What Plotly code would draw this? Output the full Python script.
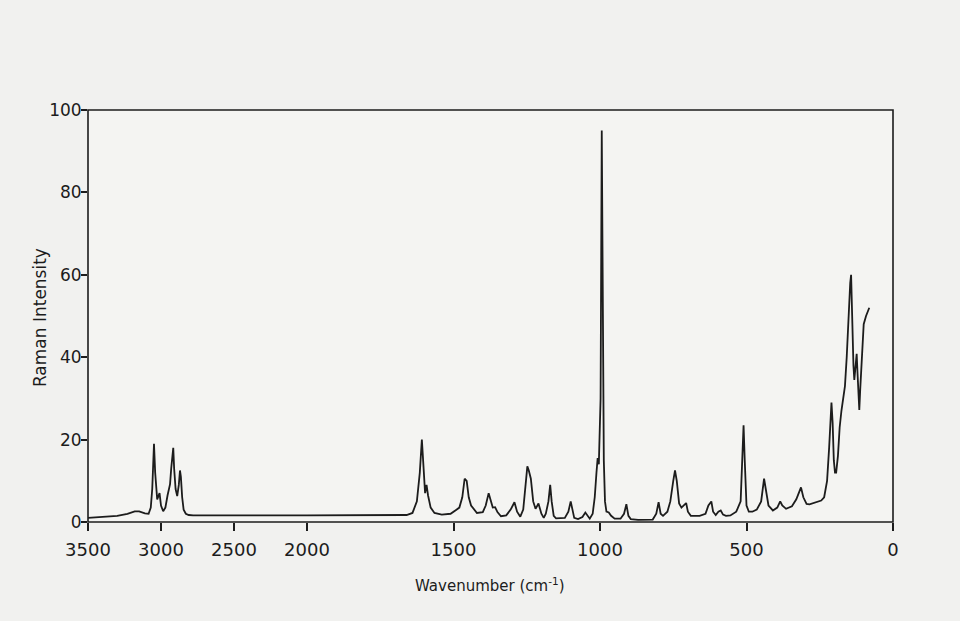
import plotly.graph_objects as go

# Spectrum (wavenumber cm^-1, Raman intensity)
wavenumber = [
    3500, 3400, 3300, 3230, 3180, 3150, 3110, 3085, 3070, 3060, 3052, 3048, 3040, 3033, 3026,
    3010, 3000, 2985, 2970, 2955, 2945, 2938, 2930, 2922, 2916, 2910, 2900, 2889, 2878, 2870,
    2864, 2855, 2845, 2830, 2810, 2780, 2000,
    1700, 1660, 1640, 1625, 1615, 1608, 1602, 1597, 1592, 1587, 1578, 1565, 1540, 1510, 1490,
    1480, 1470, 1462, 1455, 1448, 1440, 1430, 1420, 1400, 1390, 1380, 1374, 1366, 1358, 1350,
    1338, 1320, 1305, 1292, 1283, 1272, 1262, 1254, 1248, 1243, 1236, 1228, 1220, 1210, 1200,
    1192, 1185, 1176, 1170, 1165, 1158, 1150, 1120, 1108, 1100, 1094, 1088, 1075, 1060, 1050,
    1042, 1035, 1025, 1018, 1012, 1008, 1004, 998, 994, 990, 987, 983, 978, 970, 962,
    950, 930, 918, 910, 903, 895, 870, 820, 808, 800, 793, 785, 770, 760, 750,
    744, 738, 730, 722, 715, 706, 700, 690, 660, 640, 630, 620, 614, 605, 596,
    588, 580, 570, 555, 535, 520, 514, 510, 506, 500, 492, 480, 465, 450, 440,
    434, 425, 410, 395, 385, 378, 365, 345, 330, 320, 314, 306, 295, 285, 260,
    245, 235, 225, 218, 214, 210, 206, 202, 198, 194, 188, 182, 176, 170, 164,
    158, 152, 146, 143, 140, 135, 132, 128, 124, 121, 117, 115, 112, 107, 100,
    92, 81,
]
intensity = [
    1.0, 1.2, 1.5, 2.0, 2.6, 2.6, 2.1, 2.0, 3.5, 8.0, 16.0, 19.0, 12.0, 7.0, 5.5,
    7.0, 4.0, 2.6, 3.5, 6.5, 8.5, 9.2, 13.0, 17.0, 18.0, 13.0, 8.0, 6.3, 9.0, 12.5,
    11.0, 6.0, 3.0, 2.0, 1.7, 1.6, 1.6,
    1.6, 1.7, 2.2, 5.0, 12.0, 20.0, 13.0, 7.0, 9.0, 6.5, 3.5, 2.2, 1.8, 2.0, 3.0,
    3.5, 6.0, 10.5, 10.0, 6.0, 4.0, 3.0, 2.2, 2.4, 4.0, 7.0, 5.5, 3.5, 3.6, 2.4,
    1.4, 1.6, 3.0, 4.8, 2.5, 1.3, 3.0, 9.0, 13.5, 12.5, 10.5, 5.0, 3.2, 4.5, 2.0,
    1.0, 2.0, 5.0, 9.0, 5.0, 1.5, 0.9, 1.0, 2.5, 5.0, 3.0, 1.0, 0.7, 1.2, 2.3,
    1.5, 0.8, 2.0, 6.0, 12.0, 15.5, 14.0, 30.0, 95.0, 60.0, 15.0, 5.0, 2.5, 2.3, 1.5,
    0.8, 0.8, 2.0, 4.3, 1.5, 0.7, 0.5, 0.6, 2.0, 4.8, 2.0, 1.5, 2.5, 5.0, 10.0,
    12.5, 10.0, 4.5, 3.5, 4.0, 4.6, 2.5, 1.5, 1.5, 2.0, 4.0, 5.0, 2.5, 1.7, 2.5,
    2.8, 1.8, 1.5, 1.6, 2.5, 5.0, 15.0, 23.5, 15.0, 4.0, 2.5, 2.5, 3.0, 5.0, 10.5,
    8.0, 4.0, 2.8, 3.5, 5.0, 4.0, 3.2, 3.8, 5.5, 7.5, 8.4, 6.0, 4.4, 4.3, 4.8,
    5.2, 6.0, 10.0, 18.0, 25.0, 29.0, 24.0, 15.0, 12.0, 12.0, 16.0, 23.0, 27.0, 30.0, 33.0,
    40.0, 50.0, 58.0, 60.0, 50.0, 38.0, 34.5, 38.0, 40.8, 36.0, 29.0, 27.2, 32.0, 40.0, 48.0,
    50.0, 52.0,
]

# Axis ticks (the wavenumber scale is compressed by half above 2000 cm^-1)
high_ticks = [3500, 3000, 2500, 2000]
low_ticks = [1500, 1000, 500, 0]
y_ticks = [0, 20, 40, 60, 80, 100]
BREAK = 2000

hi_x = [w for w in wavenumber if w >= BREAK]
hi_y = [v for w, v in zip(wavenumber, intensity) if w >= BREAK]
lo_x = [w for w in wavenumber if w <= BREAK]
lo_y = [v for w, v in zip(wavenumber, intensity) if w <= BREAK]

ink = "#1c1c1c"
font_family = "DejaVu Sans, Arial, sans-serif"
split = 219 / 805

fig = go.Figure()
fig.add_trace(go.Scatter(x=hi_x, y=hi_y, mode="lines", xaxis="x", yaxis="y",
                         line=dict(color=ink, width=1.8), showlegend=False))
fig.add_trace(go.Scatter(x=lo_x, y=lo_y, mode="lines", xaxis="x2", yaxis="y",
                         line=dict(color=ink, width=1.8), showlegend=False))

x_common = dict(showgrid=False, zeroline=False, showline=False, ticks="outside",
                ticklen=8, tickwidth=1.5, tickcolor=ink, ticklabelstandoff=3,
                tickfont=dict(family=font_family, size=18, color=ink))

fig.update_layout(
    width=960, height=621,
    margin=dict(l=88, r=67, t=110, b=99),
    paper_bgcolor="#f1f1ef",
    plot_bgcolor="#f4f4f2",
    xaxis=dict(domain=[0, split], range=[3500, 2000], anchor="y",
               tickvals=high_ticks, ticktext=[str(t) for t in high_ticks], **x_common),
    xaxis2=dict(domain=[split, 1], range=[2000, 0], anchor="y",
                tickvals=low_ticks, ticktext=[str(t) for t in low_ticks], **x_common),
    yaxis=dict(range=[0, 100], anchor="x", tickvals=y_ticks,
               ticktext=[str(t) for t in y_ticks],
               showgrid=False, zeroline=False, showline=False, ticks="outside",
               ticklen=6, tickwidth=1.5, tickcolor=ink, ticklabelstandoff=-4,
               tickfont=dict(family=font_family, size=17, color=ink)),
    shapes=[dict(type="rect", xref="paper", yref="paper", x0=0, x1=1, y0=0, y1=1,
                 line=dict(color=ink, width=1.6))],
    annotations=[
        dict(text="Raman Intensity", xref="paper", yref="paper", x=-0.0596, y=0.495,
             textangle=-90, showarrow=False, xanchor="center", yanchor="middle",
             font=dict(family=font_family, size=17, color=ink)),
        dict(text="Wavenumber (cm<sup>-1</sup>)", xref="paper", yref="paper", x=0.4994, y=-0.153,
             showarrow=False, xanchor="center", yanchor="middle",
             font=dict(family=font_family, size=15, color=ink)),
    ],
)

fig.write_html("out.html")
